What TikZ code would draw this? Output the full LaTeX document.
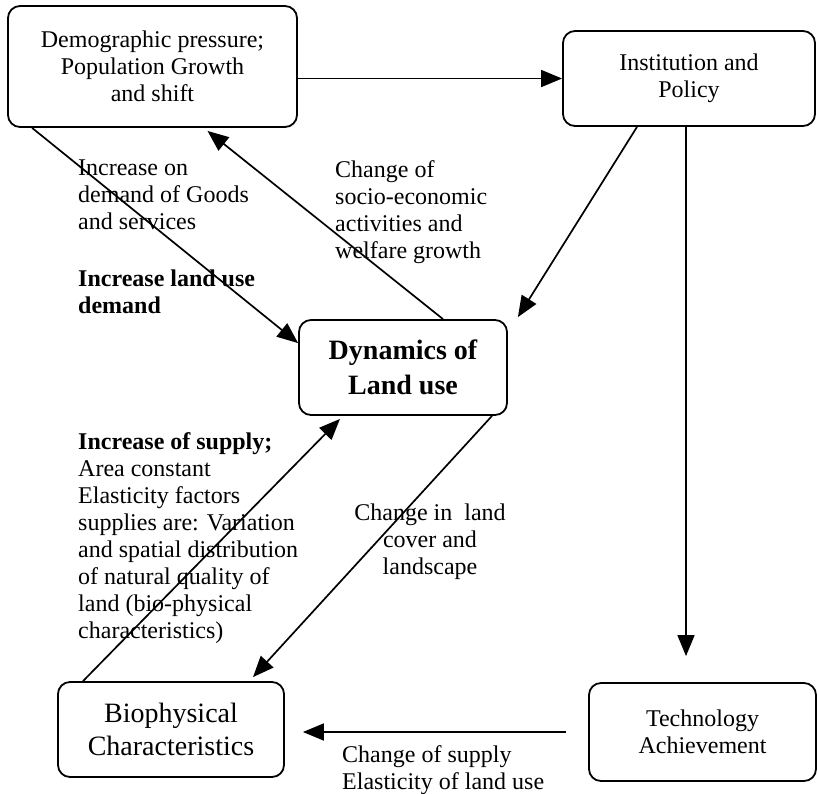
\documentclass[tikz,border=0pt]{standalone}
\usepackage{fontspec}
\setmainfont{Liberation Serif}
\usetikzlibrary{arrows.meta}

\begin{document}
\begin{tikzpicture}[x=1pt,y=-1pt,
    box/.style={draw,line width=1.8pt,rounded corners=12pt,align=center,inner sep=0pt,
                font=\fontsize{24}{27}\selectfont},
    arr/.style={line width=1.7pt,-{Triangle[length=21pt,width=17pt]}},
    lbl/.style={anchor=north west,inner sep=0pt,align=left,font=\fontsize{24}{27}\selectfont}]
   \fill[white] (0,0) rectangle (818,793);
   \useasboundingbox (0,0) rectangle (818,793);

          \node[box,minimum width=289pt,minimum height=121pt] (demo) at (152.5,66.5)
               {Demographic pressure;\\Population Growth\\and shift};
          \node[box,minimum width=252pt,minimum height=95pt] (inst) at (689,78.5)
               {Institution and\\Policy};
          \node[box,minimum width=208pt,minimum height=95pt,
                font=\fontsize{28}{35}\selectfont\bfseries] (dyn) at (403,367.5)
               {Dynamics of\\Land use};
          \node[box,minimum width=226pt,minimum height=95pt,
                font=\fontsize{28}{33}\selectfont] (bio) at (171,729.5)
               {Biophysical\\Characteristics};
          \node[box,minimum width=227pt,minimum height=98pt] (tech) at (702.5,732)
               {Technology\\Achievement};

          \node[lbl] (goods) at (78,160) {Increase on\\demand of Goods\\and services};
          \node[lbl,font=\fontsize{24}{27}\selectfont\bfseries] (landdemand) at (78,270)
               {Increase land use\\demand};
          \node[lbl] (socio) at (335,160)
               {Change of\\socio-economic\\activities and\\welfare growth};
          \node[lbl] (supply) at (78,432)
               {\textbf{Increase of supply;}\\Area constant\\Elasticity factors\\supplies are: Variation\\
                and spatial distribution\\of natural quality of\\land (bio-physical\\characteristics)};
          \node[lbl,anchor=north,align=center] (cover) at (430,504)
               {Change in~ land\\cover and\\landscape};
          \node[lbl] (elast) at (342,745) {Change of supply\\Elasticity of land use};

   \draw[arr] (demo.east |- inst.west) -- (inst.west);
   \draw[arr] ([xshift=25pt]demo.south west) -- ([yshift=-24pt]dyn.north west);
   \draw[arr] ([xshift=40pt]dyn.north) -- ([xshift=55pt,yshift=-3pt]demo.south);
   \draw[arr] ([xshift=-52pt]inst.south) -- ([shift={(10pt,2pt)}]dyn.north east);
   \draw[arr,shorten >=26pt] ([xshift=-3pt]inst.south) -- ([xshift=-3pt]inst.south |- tech.north);
   \draw[arr] ([xshift=89pt]dyn.south) -- ([xshift=82pt,yshift=4pt]bio.north);
   \draw[arr] ([xshift=-88pt]bio.north) -- ([xshift=-63pt,yshift=-3pt]dyn.south);
   \draw[arr,shorten <=22pt,shorten >=18pt] (tech.west) -- (tech.west -| bio.east);

\end{tikzpicture}
\end{document}
